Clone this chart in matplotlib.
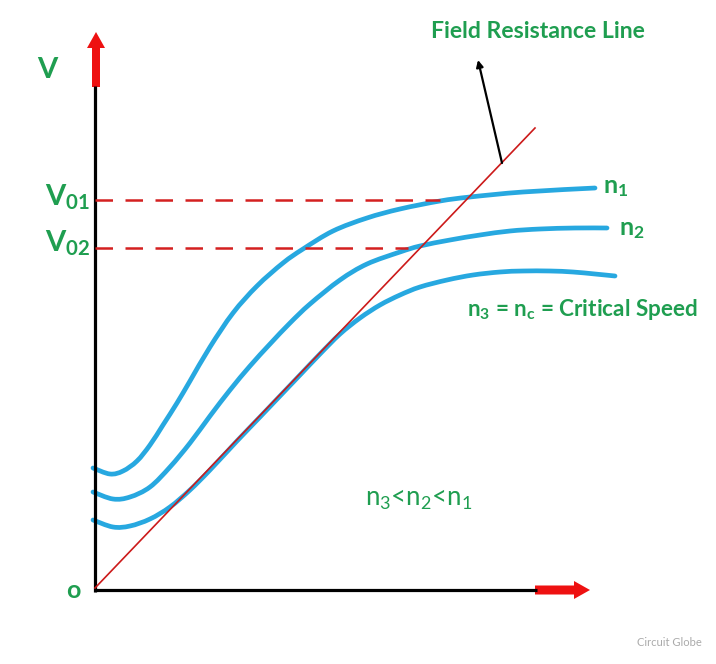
import matplotlib
matplotlib.use("Agg")
import matplotlib.pyplot as plt
from matplotlib.patches import FancyArrow, PathPatch
from matplotlib.path import Path

plt.rcParams['font.family'] = ['Lato', 'DejaVu Sans']
plt.rcParams['mathtext.fontset'] = 'custom'
plt.rcParams['mathtext.rm'] = 'Lato'
plt.rcParams['mathtext.bf'] = 'Lato:bold'
plt.rcParams['mathtext.it'] = 'Lato:italic'

# ---- data (pixel-like units, y downwards) ----
n1_x = [93, 110, 123, 137, 150, 163, 177, 190, 210, 233, 257, 283, 303, 333, 367, 400,
        440, 470, 523, 595]
n1_y = [468, 474, 471, 461, 445, 425, 403, 381, 347, 313, 286, 263, 249, 231, 218, 209,
        201, 197, 192, 188]

n2_x = [93, 113, 130, 150, 170, 190, 210, 230, 250, 270, 290, 310, 340, 367, 400, 420,
        450, 480, 510, 540, 575, 607]
n2_y = [492, 499, 497, 487, 467, 443, 416, 390, 366, 344, 323, 304, 280, 264, 252, 246,
        240, 235, 231, 229, 228, 228]

n3_x = [93, 113, 130, 150, 170, 190, 210, 237, 260, 280, 300, 320, 340, 360, 380, 400,
        420, 447, 473, 500, 523, 550, 573, 595, 615]
n3_y = [520, 527, 526, 519, 507, 490, 470, 441, 417, 396, 375, 354, 334, 318, 305, 295,
        287, 280, 275, 272, 271, 271, 272, 274, 276]

field_x = [95, 535]
field_y = [588, 128]

v01_level = 200
v01_end = 440
v02_level = 248
v02_end = 408

speed_labels = ["$\\mathbf{n_1}$", "$\\mathbf{n_2}$"]


def smooth_path(xs, ys):
    """Catmull-Rom style cubic Bezier path through the given points."""
    pts = list(zip(xs, ys))
    verts = [pts[0]]
    codes = [Path.MOVETO]
    n = len(pts)
    for i in range(n - 1):
        p0 = pts[i - 1] if i > 0 else pts[i]
        p1 = pts[i]
        p2 = pts[i + 1]
        p3 = pts[i + 2] if i + 2 < n else pts[i + 1]
        c1 = (p1[0] + (p2[0] - p0[0]) / 6.0, p1[1] + (p2[1] - p0[1]) / 6.0)
        c2 = (p2[0] - (p3[0] - p1[0]) / 6.0, p2[1] - (p3[1] - p1[1]) / 6.0)
        verts += [c1, c2, p2]
        codes += [Path.CURVE4] * 3
    return Path(verts, codes)


# ---- figure ----
fig = plt.figure(figsize=(7.16, 6.64), dpi=100)
ax = fig.add_axes([0, 0, 1, 1])
ax.set_xlim(0, 716)
ax.set_ylim(664, 0)
ax.axis('off')

green = '#1F9E50'
blue = '#27A8E0'
red = '#D42020'

# axes lines
ax.plot([95, 95], [592, 86], color='black', lw=2.3, solid_capstyle='butt')
ax.plot([94, 537], [590, 590], color='black', lw=2.3, solid_capstyle='butt')

# red arrows
ax.add_patch(FancyArrow(96, 87, 0, -55, width=8, head_width=18, head_length=16,
                        length_includes_head=True, color='#EE1111', lw=0))
ax.add_patch(FancyArrow(535, 590, 55, 0, width=9, head_width=18, head_length=16,
                        length_includes_head=True, color='#EE1111', lw=0))

# dashed lines
ax.plot([95, v01_end], [v01_level, v01_level], color=red, lw=1.8, dashes=(7, 5))
ax.plot([95, v02_end], [v02_level, v02_level], color=red, lw=1.8, dashes=(7, 5))

# field resistance line
ax.plot(field_x, field_y, color='#CC1A1A', lw=1.2)

# curves
for xs, ys in [(n1_x, n1_y), (n2_x, n2_y), (n3_x, n3_y)]:
    ax.add_patch(PathPatch(smooth_path(xs, ys), facecolor='none', edgecolor=blue,
                           lw=3.4, capstyle='round', joinstyle='round'))

# annotation arrow
ax.annotate('', xy=(478, 60), xytext=(502, 163),
            arrowprops=dict(arrowstyle='-|>', color='black', lw=1.6,
                            mutation_scale=10, shrinkA=0, shrinkB=0))

# texts
ax.text(538, 32, 'Field Resistance Line', color=green, fontsize=16.6,
        fontweight='bold', ha='center', va='center')
ax.text(47, 70, 'V', color=green, fontsize=21, fontweight='bold', ha='center', va='center')
ax.text(90, 197, '$\\mathbf{V_{01}}$', color=green, fontsize=21, ha='right', va='center')
ax.text(90, 243, '$\\mathbf{V_{02}}$', color=green, fontsize=21, ha='right', va='center')
ax.text(73, 590, 'o', color=green, fontsize=18, fontweight='bold', ha='center', va='center')
ax.text(603, 187, speed_labels[0], color=green, fontsize=18, ha='left', va='center')
ax.text(619, 229, speed_labels[1], color=green, fontsize=18, ha='left', va='center')
ax.text(467, 309, '$\\mathbf{n_3}$ = $\\mathbf{n_c}$ = Critical Speed', color=green,
        fontsize=16.2, fontweight='bold', ha='left', va='center')
ax.text(365, 499, '$\\mathrm{n_3}$<$\\mathrm{n_2}$<$\\mathrm{n_1}$', color=green,
        fontsize=18.5, ha='left', va='center')
ax.text(669, 642, 'Circuit Globe', color='#AAAAAA', fontsize=8, ha='center', va='center')

fig.savefig('out.png', dpi=100)
